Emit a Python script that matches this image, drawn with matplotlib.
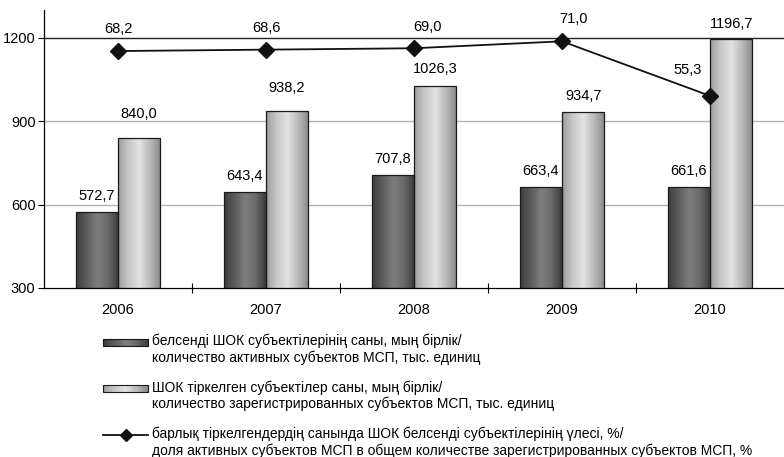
import matplotlib.pyplot as plt
import numpy as np
from matplotlib.patches import Rectangle
from matplotlib.lines import Line2D
from matplotlib.colors import LinearSegmentedColormap

plt.rcParams['font.family'] = ['Liberation Sans', 'DejaVu Sans']

years = ['2006', '2007', '2008', '2009', '2010']
active = [572.7, 643.4, 707.8, 663.4, 661.6]
registered = [840.0, 938.2, 1026.3, 934.7, 1196.7]
share = [68.2, 68.6, 69.0, 71.0, 55.3]

labels = [
    'белсенді ШОК субъектілерінің саны, мың бірлік/\nколичество активных субъектов МСП, тыс. единиц',
    'ШОК тіркелген субъектілер саны, мың бірлік/\nколичество зарегистрированных субъектов МСП, тыс. единиц',
    'барлық тіркелгендердің санында ШОК белсенді субъектілерінің үлесі, %/\n'
    'доля активных субъектов МСП в общем количестве зарегистрированных субъектов МСП, %',
]

fmt = lambda v: f'{v:.1f}'.replace('.', ',')
PX = 0.72  # points per pixel at dpi 100

fig = plt.figure(figsize=(7.84, 4.57), dpi=100)
ax = fig.add_axes([0.056, 0.370, 0.944, 0.608])

x = np.arange(len(years))
w = 0.286

dark_cmap = LinearSegmentedColormap.from_list('d', ['#3e3e3e', '#5c5c5c', '#7e7e7e', '#686868', '#383838'])
light_cmap = LinearSegmentedColormap.from_list('l', ['#9c9c9c', '#c8c8c8', '#e2e2e2', '#bababa', '#888888'])
grad = np.linspace(0, 1, 256).reshape(1, -1)


def gradient_bars(xs, heights, cmap):
    bars = ax.bar(xs, heights, w, bottom=0, color='none', edgecolor='#1a1a1a', linewidth=0.9, zorder=3)
    for b in bars:
        x0 = b.get_x()
        img = ax.imshow(grad, cmap=cmap, aspect='auto', zorder=2.5,
                        extent=(x0, x0 + b.get_width(), 300, b.get_height()))
        img.set_clip_path(b)
    return bars


gradient_bars(x - w / 2, active, dark_cmap)
gradient_bars(x + w / 2, registered, light_cmap)

ax.set_xlim(-0.5, 4.5)
ax.set_ylim(300, 1300)
ax.set_yticks([300, 600, 900, 1200])
ax.tick_params(axis='y', labelsize=10.5, length=4, width=0.8, pad=2)
for yv in [600, 900]:
    ax.axhline(yv, color='#b5b5b5', lw=1, zorder=1)
ax.axhline(1200, color='#222222', lw=1, zorder=1)

ax.set_xticks(x)
ax.set_xticklabels(years, fontsize=10.5)
ax.tick_params(axis='x', length=0, pad=11)
ax.set_xticks(np.arange(0.5, 4.5, 1), minor=True)
ax.tick_params(axis='x', which='minor', direction='inout', length=7, width=0.8)

for s in ['top', 'right']:
    ax.spines[s].set_visible(False)
ax.spines['left'].set_linewidth(0.9)
ax.spines['bottom'].set_linewidth(0.9)

dark_off = [16, 16, 16, 16, 16]
light_off = [24, 23, 17, 16, 15]
for xi, v, o in zip(x - w / 2, active, dark_off):
    ax.annotate(fmt(v), (xi, v), xytext=(0, o * PX), textcoords='offset points',
                ha='center', va='center', fontsize=10.5)
for xi, v, o in zip(x + w / 2, registered, light_off):
    ax.annotate(fmt(v), (xi, v), xytext=(0, o * PX), textcoords='offset points',
                ha='center', va='center', fontsize=10.5)

ax2 = ax.twinx()
ax2.set_ylim(0, 80)
ax2.set_xlim(-0.5, 4.5)
ax2.axis('off')
ax2.plot(x, share, color='#111111', lw=1.3, marker='D', markersize=8, zorder=5)
share_off = [(1, 22), (1, 22), (14, 21), (12, 22), (-22, 26)]
for xi, v, (dx, dy) in zip(x, share, share_off):
    ax2.annotate(fmt(v), (xi, v), xytext=(dx * PX, dy * PX), textcoords='offset points',
                 ha='center', va='center', fontsize=10.5)


class FirstLineHandler:
    """Legend handle drawn beside the first line of a two-line label."""

    def __init__(self, kind, cmap=None):
        self.kind = kind
        self.cmap = cmap

    def legend_artist(self, legend, orig_handle, fontsize, handlebox):
        x0, y0 = -handlebox.xdescent, -handlebox.ydescent
        wd, ht = handlebox.width, handlebox.height
        cy = y0 + ht / 2 + 0.55 * fontsize
        if self.kind == 'line':
            handlebox.add_artist(Line2D([x0, x0 + wd], [cy, cy], color='#111111', lw=1.3))
            handlebox.add_artist(Line2D([x0 + wd / 2], [cy], marker='D', markersize=6,
                                        color='#111111'))
            return None
        hh = 0.5 * fontsize
        n = 24
        for i in range(n):
            handlebox.add_artist(Rectangle((x0 + wd * i / n, cy - hh / 2), wd / n + 0.2, hh,
                                           facecolor=self.cmap(i / (n - 1)), edgecolor='none'))
        handlebox.add_artist(Rectangle((x0, cy - hh / 2), wd, hh, facecolor='none',
                                       edgecolor='#1a1a1a', lw=0.8))
        return None


h1, h2, h3 = object(), object(), object()
leg = fig.legend([h1, h2, h3], labels, loc='upper left', bbox_to_anchor=(0.122, 0.285),
                 frameon=False, fontsize=10, handlelength=3.3, handleheight=0.5,
                 handletextpad=0.25, labelspacing=1.1, borderpad=0,
                 handler_map={h1: FirstLineHandler('bar', dark_cmap),
                              h2: FirstLineHandler('bar', light_cmap),
                              h3: FirstLineHandler('line')})

fig.savefig('out.png', dpi=100)
